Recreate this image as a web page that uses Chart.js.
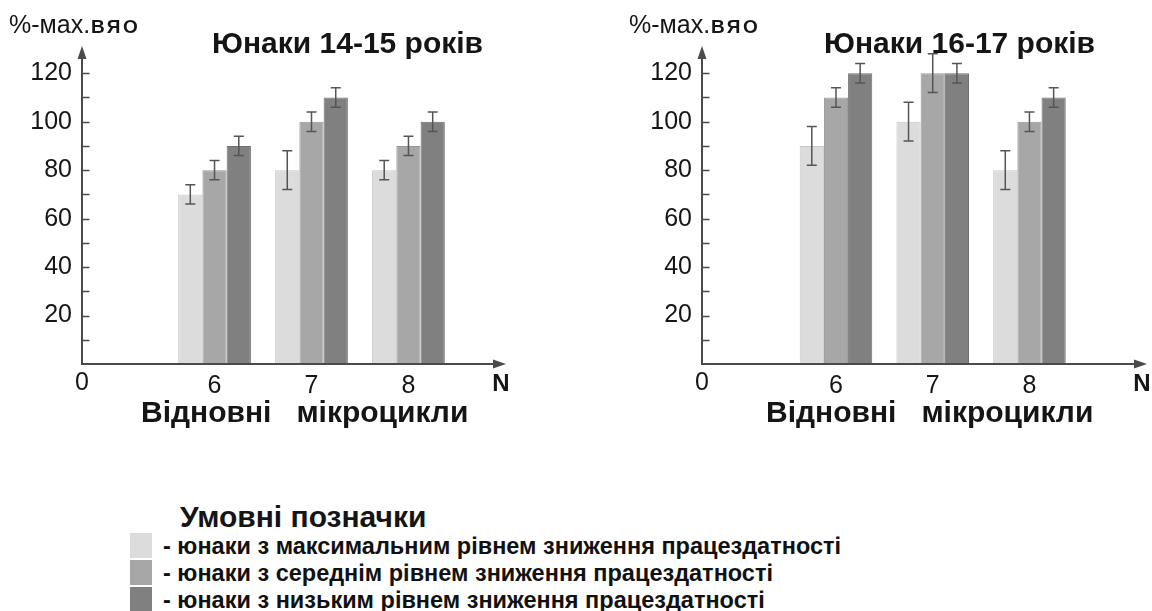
<!DOCTYPE html>
<html lang="uk">
<head>
<meta charset="utf-8">
<title>Відновні мікроцикли</title>
<script src="https://cdn.jsdelivr.net/npm/chart.js@4.4.1/dist/chart.umd.min.js"></script>
<style>
  html, body { margin: 0; padding: 0; background: #ffffff; }
  body { width: 1152px; height: 611px; position: relative; overflow: hidden;
         font-family: "Liberation Sans", Arial, sans-serif; }
  canvas { position: absolute; top: 0; }
  #chart1415 { left: 0; }
  #chart1617 { left: 576px; }
  .lg-title { position: absolute; left: 180px; top: 499px; height: 36px; line-height: 36px;
              font-family: "Liberation Sans", Arial, sans-serif; font-weight: bold;
              font-size: 30px; color: #151515; white-space: nowrap; }
  .lg-row { position: absolute; left: 130px; height: 28px; line-height: 28px; white-space: nowrap;
            font-family: "Liberation Sans", Arial, sans-serif;
            font-weight: bold; font-size: 23.5px; color: #111; }
  .lg-row .sw { position: absolute; left: 0; top: 1px; width: 22px; height: 25px; }
  .lg-row .txt { position: absolute; left: 33px; top: 0; }
</style>
</head>
<body>
<canvas id="chart1415" width="576" height="450"></canvas>
<canvas id="chart1617" width="576" height="450"></canvas>
<div id="legend"></div>
<script>
// Recovery microcycles on the horizontal axis
const microcycles = [6, 7, 8];
const originLabel = '0';
const endLabel = 'N';
const yUnitPrefix = '%-мах.';
const yUnitName = 'ВЯО';
const xCaption = 'Відновні   мікроцикли';

// Groups of boys by level of work-capacity decline
const groupNames = [
  'юнаки з максимальним рівнем зниження працездатності',
  'юнаки з середнім рівнем зниження працездатності',
  'юнаки з низьким рівнем зниження працездатності'
];
const legendTitle = 'Умовні позначки';

// Boys aged 14-15
const title1415 = 'Юнаки 14-15 років';
const maxDecline1415 = [70, 80, 80];
const midDecline1415 = [80, 100, 90];
const lowDecline1415 = [90, 110, 100];
const maxDeclineErr1415 = [4, 8, 4];
const midDeclineErr1415 = [4, 4, 4];
const lowDeclineErr1415 = [4, 4, 4];

// Boys aged 16-17
const title1617 = 'Юнаки 16-17 років';
const maxDecline1617 = [90, 100, 80];
const midDecline1617 = [110, 120, 100];
const lowDecline1617 = [120, 120, 110];
const maxDeclineErr1617 = [8, 8, 8];
const midDeclineErr1617 = [4, 8, 4];
const lowDeclineErr1617 = [4, 4, 4];

const fills = ['#dcdcdc', '#a7a7a7', '#808080'];
const edges = ['#c6c6c6', '#959595', '#6f6f6f'];
const axisColor = '#4a4a4a';
const textColor = '#151515';
const tickColor = '#161616';
const sans = '"Liberation Sans", Arial, sans-serif';

// Arrow-headed axes, inward tick marks, error bars and captions
const decor = {
  id: 'decor',
  afterDatasetsDraw(chart) {
    const ctx = chart.ctx;
    const ys = chart.scales.y;
    ctx.save();
    ctx.strokeStyle = '#555555';
    ctx.lineWidth = 1.5;
    chart.data.datasets.forEach((ds, i) => {
      chart.getDatasetMeta(i).data.forEach((bar, j) => {
        const v = ds.data[j].y, e = ds.errors[j];
        const top = ys.getPixelForValue(v + e);
        const bot = ys.getPixelForValue(v - e);
        ctx.beginPath();
        ctx.moveTo(bar.x, top); ctx.lineTo(bar.x, bot);
        ctx.moveTo(bar.x - 5, top); ctx.lineTo(bar.x + 5, top);
        ctx.moveTo(bar.x - 5, bot); ctx.lineTo(bar.x + 5, bot);
        ctx.stroke();
      });
    });
    ctx.restore();
  },
  afterDraw(chart, args, opts) {
    const ctx = chart.ctx;
    const a = chart.chartArea;
    const ys = chart.scales.y;
    ctx.save();
    ctx.strokeStyle = axisColor;
    ctx.fillStyle = axisColor;
    ctx.lineWidth = 2;
    // vertical axis with arrow
    ctx.beginPath();
    ctx.moveTo(a.left, a.bottom + 1);
    ctx.lineTo(a.left, a.top + 6);
    ctx.stroke();
    ctx.beginPath();
    ctx.moveTo(a.left, a.top - 3);
    ctx.lineTo(a.left - 4.5, a.top + 10);
    ctx.lineTo(a.left + 4.5, a.top + 10);
    ctx.closePath();
    ctx.fill();
    // horizontal axis with arrow
    ctx.beginPath();
    ctx.moveTo(a.left - 1, a.bottom);
    ctx.lineTo(a.right - 6, a.bottom);
    ctx.stroke();
    ctx.beginPath();
    ctx.moveTo(a.right, a.bottom);
    ctx.lineTo(a.right - 13, a.bottom - 4.5);
    ctx.lineTo(a.right - 13, a.bottom + 4.5);
    ctx.closePath();
    ctx.fill();
    // inward tick marks on the vertical axis
    ctx.lineWidth = 1.5;
    ys.ticks.forEach(t => {
      if (t.value > 0 && t.value < ys.max) {
        const py = Math.round(ys.getPixelForValue(t.value)) + 0.5;
        ctx.beginPath();
        ctx.moveTo(a.left, py);
        ctx.lineTo(a.left + 7.5, py);
        ctx.stroke();
      }
    });
    // axis end labels
    ctx.fillStyle = tickColor;
    ctx.textBaseline = 'top';
    ctx.textAlign = 'center';
    ctx.font = '25px ' + sans;
    ctx.fillText(originLabel, a.left, a.bottom + 7);
    ctx.font = 'bold 24px ' + sans;
    ctx.fillText(endLabel, a.right - 5, a.bottom + 8);
    // unit label: regular prefix followed by a bold abbreviation
    ctx.fillStyle = textColor;
    ctx.textAlign = 'left';
    ctx.textBaseline = 'alphabetic';
    const ux = a.left - 73;
    ctx.font = '25px ' + sans;
    ctx.fillText(yUnitPrefix, ux, 33);
    const pw = ctx.measureText(yUnitPrefix).width;
    ctx.font = 'bold 19px ' + sans;
    ctx.letterSpacing = '2.5px';
    ctx.fillText(yUnitName, ux + pw + 1, 33);
    ctx.letterSpacing = '0px';
    // chart title and axis caption
    ctx.textBaseline = 'middle';
    ctx.font = 'bold 30px ' + sans;
    ctx.fillText(opts.title, opts.titleX, 45);
    ctx.fillText(xCaption, opts.captionX, 414);
    ctx.restore();
  }
};

function makeChart(canvasId, title, values, errors, frame) {
  return new Chart(document.getElementById(canvasId), {
    type: 'bar',
    data: {
      datasets: values.map((vals, i) => ({
        label: groupNames[i],
        data: microcycles.map((m, j) => ({ x: m, y: vals[j] })),
        errors: errors[i],
        backgroundColor: fills[i],
        borderColor: edges[i],
        borderWidth: 1,
        categoryPercentage: 0.75,
        barPercentage: 1.0
      }))
    },
    options: {
      responsive: false,
      animation: false,
      devicePixelRatio: 1,
      layout: { padding: { left: 0, right: frame.padRight, top: 49, bottom: 0 } },
      plugins: {
        legend: { display: false },
        tooltip: { enabled: false },
        decor: { title: title, titleX: frame.titleX, captionX: frame.captionX }
      },
      scales: {
        x: {
          type: 'linear',
          offset: false,
          min: frame.xMin,
          max: frame.xMax,
          grid: { display: false, drawTicks: false },
          border: { display: false },
          afterBuildTicks: s => { s.ticks = microcycles.map(v => ({ value: v })); },
          afterFit: s => { s.height = 86; },
          ticks: {
            padding: 7,
            autoSkip: false,
            color: tickColor,
            font: { family: sans, size: 25 },
            callback: v => String(v)
          }
        },
        y: {
          min: 0,
          max: 130,
          grid: { display: false, drawTicks: false },
          border: { display: false },
          afterFit: s => { s.width = frame.axisLeft; },
          ticks: {
            stepSize: 10,
            padding: 10,
            autoSkip: false,
            color: tickColor,
            font: { family: sans, size: 25 },
            callback: v => (v > 0 && v < 130 && v % 20 === 0) ? String(v) : ''
          }
        }
      }
    },
    plugins: [decor]
  });
}

makeChart('chart1415', title1415,
  [maxDecline1415, midDecline1415, lowDecline1415],
  [maxDeclineErr1415, midDeclineErr1415, lowDeclineErr1415],
  { axisLeft: 82, padRight: 70, xMin: 4.633, xMax: 9.006, titleX: 212, captionX: 141 });

makeChart('chart1617', title1617,
  [maxDecline1617, midDecline1617, lowDecline1617],
  [maxDeclineErr1617, midDeclineErr1617, lowDeclineErr1617],
  { axisLeft: 126, padRight: 5, xMin: 4.615, xMax: 9.215, titleX: 248, captionX: 190 });

// Legend block
const legend = document.getElementById('legend');
const head = document.createElement('div');
head.className = 'lg-title';
head.textContent = legendTitle;
legend.appendChild(head);
const rowCenters = [546, 573, 600];
groupNames.forEach((name, i) => {
  const row = document.createElement('div');
  row.className = 'lg-row';
  row.style.top = (rowCenters[i] - 14) + 'px';
  const sw = document.createElement('span');
  sw.className = 'sw';
  sw.style.background = fills[i];
  const txt = document.createElement('span');
  txt.className = 'txt';
  txt.textContent = '- ' + name;
  row.appendChild(sw);
  row.appendChild(txt);
  legend.appendChild(row);
});
</script>
</body>
</html>
